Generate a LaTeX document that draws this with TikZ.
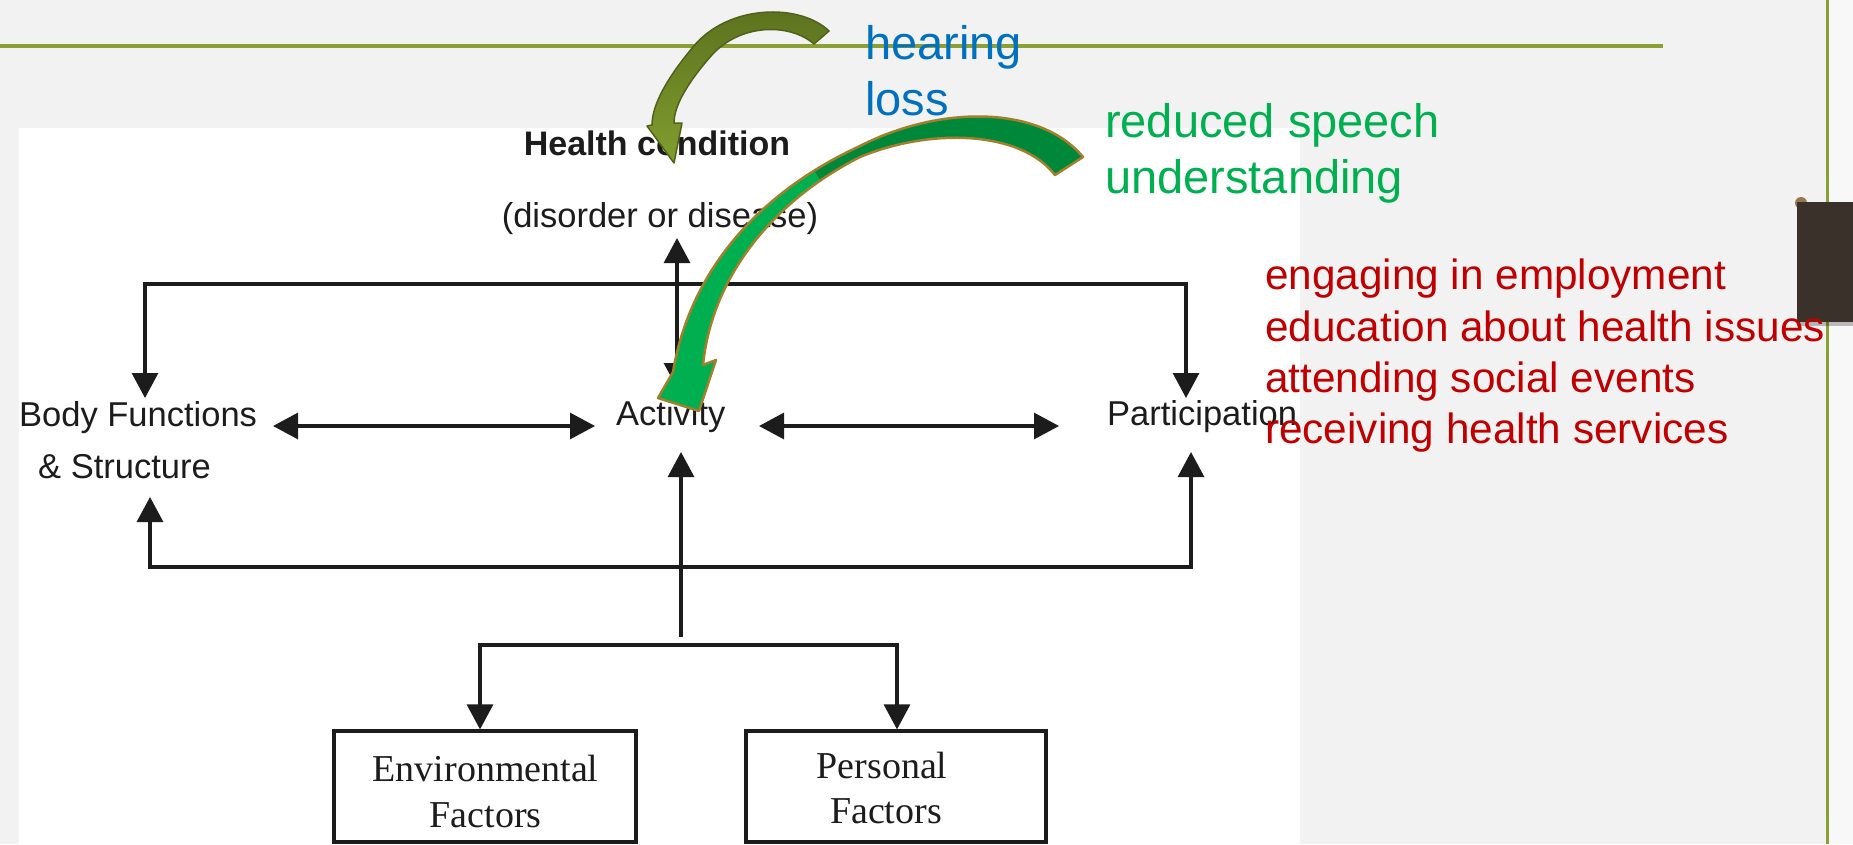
\documentclass[tikz,border=0pt]{standalone}
\usepackage{fontspec}
\usetikzlibrary{arrows.meta}
\newfontfamily\lsans{Liberation Sans}
\newfontfamily\lserif{Liberation Serif}

\definecolor{slidebg}{RGB}{242,242,242}
\definecolor{margin}{RGB}{248,248,248}
\definecolor{rule}{RGB}{138,160,52}
\definecolor{ink}{RGB}{28,28,28}
\definecolor{tagblue}{RGB}{0,112,192}
\definecolor{taggreen}{RGB}{0,176,80}
\definecolor{tagred}{RGB}{192,0,0}
\definecolor{olivedark}{RGB}{92,112,30}
\definecolor{olivelight}{RGB}{128,158,46}
\definecolor{oliveedge}{RGB}{80,98,24}
\definecolor{leafdark}{RGB}{0,136,58}
\definecolor{leafbright}{RGB}{0,176,80}
\definecolor{leafedge}{RGB}{160,128,44}
\definecolor{tabbrown}{RGB}{58,50,42}
\definecolor{pinbrown}{RGB}{150,120,80}

\tikzset{
  lbl/.style={inner sep=0pt, text=ink, anchor=base west,
    font=\lsans\fontsize{34.5}{40}\selectfont},
  lblc/.style={lbl, anchor=base},
  boldlbl/.style={lblc, font=\lsans\bfseries\fontsize{34}{40}\selectfont},
  serif/.style={inner sep=0pt, text=ink, anchor=base,
    font=\lserif\fontsize{38}{46}\selectfont},
  factorbox/.style={draw=ink, line width=3.2pt, inner sep=0pt, fill=white},
  link/.style={draw=ink, line width=3.1pt},
  tip/.style={link, -{Triangle[length=25pt,width=26pt]}},
  tips/.style={link, {Triangle[length=25pt,width=26pt]}-{Triangle[length=25pt,width=26pt]}},
  note/.style={inner sep=0pt, anchor=base west,
    font=\lsans\fontsize{47}{56}\selectfont},
  item/.style={inner sep=0pt, anchor=base west, text=tagred,
    font=\lsans\fontsize{42.3}{51}\selectfont},
}

% outline of the two curved call-out arrows
\def\hearpath{(829,31) .. controls (800,3) and (728,4) .. (693,47)
  .. controls (667,78) and (652,105) .. (652,125) -- (647,126) -- (674,163)
  -- (682,123) -- (674,123) .. controls (674,105) and (689,81) .. (711,56)
  .. controls (740,23) and (790,23) .. (814,44) -- cycle}
\def\speechpath{(1083,157) .. controls (1040,105) and (940,105) .. (860,146)
  .. controls (760,192) and (690,270) .. (673,372) -- (658,398) -- (699,411)
  -- (716,360) -- (703,365) .. controls (712,275) and (775,200) .. (860,157)
  .. controls (930,128) and (1020,130) .. (1055,175) -- cycle}

\begin{document}
\begin{tikzpicture}[x=1pt,y=-1pt]
\useasboundingbox (0,0) rectangle (1853,844);

% slide background and white figure panel
\fill[slidebg] (0,0) rectangle (1853,844);
\fill[margin] (1827,0) rectangle (1853,844);
\fill[white] (19,128) rectangle (1300,844);

% theme rules
\draw[rule, line width=3.5pt] (0,46) -- (1663,46);
\draw[rule, line width=3pt] (1827,0) -- (1827,844);

% side tab with pin
\fill[pinbrown] (1801,203) circle (6);
\fill[black, opacity=0.25] (1797,205) rectangle (1853,326);
\fill[tabbrown] (1797,202) rectangle (1853,322);

% ICF model labels
\node[boldlbl] (hc) at (657,155) {Health condition};
\node[lblc] (hcsub) at (660,227) {(disorder or disease)};
\node[lbl] (bf) at (19,426) {Body Functions};
\node[lbl] (bfs) at (38,478) {\& Structure};
\node[lbl] (act) at (616,425) {Activity};
\node[lbl] (par) at (1107,425) {Participation};

% contextual factor boxes
\node[factorbox, minimum width=302pt, minimum height=111pt] (env) at (485,786.5) {};
\node[factorbox, minimum width=300pt, minimum height=111pt] (pers) at (896,786.5) {};
\node[serif] (envA) at (485.5,781) {Environmental};
\node[serif] (envB) at (485.5,827) {Factors};
\node[serif] (persA) at (882,778) {Personal};
\node[serif] (persB) at (886,823) {Factors};

% connector end points
\coordinate (cTL) at (145,284);
\coordinate (cTR) at (1186,284);
\coordinate (bfTop) at (145,398);
\coordinate (paTop) at (1186,398);
\coordinate (hcFoot) at (677,238);
\coordinate (acHead) at (677,388);
\coordinate (bfRight) at (273,426);
\coordinate (acLeft) at (595,426);
\coordinate (acRight) at (759,426);
\coordinate (paLeft) at (1059,426);
\coordinate (bfBot) at (150,497);
\coordinate (cBL) at (150,567);
\coordinate (cBR) at (1191,567);
\coordinate (paBot) at (1191,452);
\coordinate (acBot) at (681,452);
\coordinate (acStem) at (681,637);
\coordinate (brL) at (480,645);
\coordinate (brR) at (897,645);

% connectors
\draw[tips] (bfTop) -- (cTL) -- (cTR) -- (paTop);
\draw[tips] (hcFoot) -- (acHead);
\draw[tips] (bfRight) -- (acLeft);
\draw[tips] (acRight) -- (paLeft);
\draw[tips] (bfBot) -- (cBL) -- (cBR) -- (paBot);
\draw[tip] (acStem) -- (acBot);
\draw[tips] (brL |- env.north) -- (brL) -- (brR) -- (brR |- pers.north);

% curved call-out arrows
\path[top color=olivedark, bottom color=olivelight, draw=oliveedge, line width=1.5pt, line join=round] \hearpath;
\begin{scope}
  \clip \speechpath;
  \fill[leafbright] (600,0) rectangle (1100,420);
  \fill[leafdark] (712,0) -- (892,300) -- (1100,300) -- (1100,0) -- cycle;
\end{scope}
\draw[leafedge, line width=2.5pt, line join=round] \speechpath;

% annotations
\node[note, text=tagblue] (hl1) at (865,59) {hearing};
\node[note, text=tagblue] (hl2) at (865,115) {loss};
\node[note, text=taggreen] (rs1) at (1105,137) {reduced speech};
\node[note, text=taggreen] (rs2) at (1105,193) {understanding};
\node[item] (p1) at (1265,289) {engaging in employment};
\node[item] (p2) at (1265,341) {education about health issues};
\node[item] (p3) at (1265,392) {attending social events};
\node[item] (p4) at (1265,443) {receiving health services};
\end{tikzpicture}
\end{document}
